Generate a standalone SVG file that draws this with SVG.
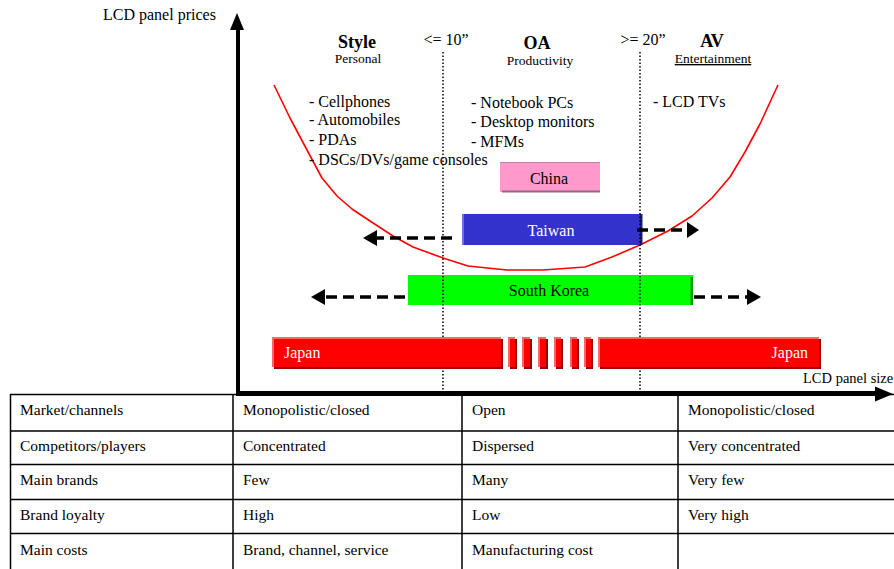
<svg xmlns="http://www.w3.org/2000/svg" width="894" height="569" viewBox="0 0 894 569">
<style>
text{font-family:"Liberation Serif","Times New Roman",serif;fill:#000}
.t{font-size:15.5px}
.l{font-size:16px}
.h{font-size:18px;font-weight:bold}
.s{font-size:13.5px}
.w{fill:#fff}
.grid{stroke:#000;stroke-width:1.5;fill:none}
.dot{stroke:#000;stroke-width:1.5;stroke-dasharray:1.5 2;fill:none}
.dash{stroke:#000;stroke-width:3.5;stroke-dasharray:11 6;fill:none}
.lt{fill:#FF6666}.dk{fill:#990000}.bd{fill:#FF0000}
</style>

<g id="table">
  <line class="grid" x1="10" y1="394.5" x2="894" y2="394.5"/>
  <line class="grid" x1="10" y1="431" x2="894" y2="431"/>
  <line class="grid" x1="10" y1="464.5" x2="894" y2="464.5"/>
  <line class="grid" x1="10" y1="499.5" x2="894" y2="499.5"/>
  <line class="grid" x1="10" y1="533.5" x2="894" y2="533.5"/>
  <line class="grid" x1="10.5" y1="394" x2="10.5" y2="569"/>
  <line class="grid" x1="233" y1="394" x2="233" y2="569"/>
  <line class="grid" x1="462" y1="394" x2="462" y2="569"/>
  <line class="grid" x1="678" y1="394" x2="678" y2="569"/>
  <text class="t" x="20" y="415">Market/channels</text>
  <text class="t" x="243" y="415">Monopolistic/closed</text>
  <text class="t" x="472" y="415">Open</text>
  <text class="t" x="688" y="415">Monopolistic/closed</text>
  <text class="t" x="20" y="451">Competitors/players</text>
  <text class="t" x="243" y="451">Concentrated</text>
  <text class="t" x="472" y="451">Dispersed</text>
  <text class="t" x="688" y="451">Very concentrated</text>
  <text class="t" x="20" y="485">Main brands</text>
  <text class="t" x="243" y="485">Few</text>
  <text class="t" x="472" y="485">Many</text>
  <text class="t" x="688" y="485">Very few</text>
  <text class="t" x="20" y="520">Brand loyalty</text>
  <text class="t" x="243" y="520">High</text>
  <text class="t" x="472" y="520">Low</text>
  <text class="t" x="688" y="520">Very high</text>
  <text class="t" x="20" y="555">Main costs</text>
  <text class="t" x="243" y="555">Brand, channel, service</text>
  <text class="t" x="472" y="555">Manufacturing cost</text>
</g>

<g id="curve">
  <polyline fill="none" stroke="#FF0000" stroke-width="1.6" stroke-linejoin="round" points="274,85 290,118 307,150 322,178 337,196 352,209 370,221 393,236 413,247 443,258 468,266 507,270 543,270 585,267 612,257 640,245 668,231 692,216 712,198 730,177 745,152 760,124 778,85"/>
</g>

<g id="china">
  <rect x="500" y="162" width="100" height="30" fill="#FF99CC"/>
  <rect x="500" y="162" width="100" height="1" fill="#CC7AA3"/>
  <rect x="502" y="190.5" width="98" height="2" fill="#996680"/>
  <text class="l" x="549" y="184" text-anchor="middle">China</text>
</g>

<g id="taiwan">
  <rect x="462" y="214" width="180" height="31" fill="#3333CC"/>
  <rect x="462" y="214" width="2" height="31" fill="#7070E0"/>
  <rect x="640" y="214" width="2.5" height="31" fill="#1A1A80"/>
  <text class="l w" x="551" y="236" text-anchor="middle">Taiwan</text>
</g>

<g id="south-korea">
  <rect x="408" y="275" width="285" height="30" fill="#00FF00"/>
  <rect x="690.5" y="277" width="2.5" height="28" fill="#009900"/>
  <text class="l" x="549" y="296" text-anchor="middle">South Korea</text>
</g>

<g id="guides">
  <line class="dot" x1="443" y1="52" x2="443" y2="391"/>
  <line class="dot" x1="640" y1="52" x2="640" y2="391"/>
</g>

<g id="japan">
  <rect class="lt" x="272" y="337" width="229" height="30"/>
  <rect class="dk" x="274" y="339" width="229" height="30"/>
  <rect class="bd" x="274" y="339" width="227" height="28"/>
  <rect class="lt" x="508" y="337" width="7" height="30"/><rect class="dk" x="510" y="339" width="7" height="30"/><rect class="bd" x="510" y="339" width="5" height="28"/>
  <rect class="lt" x="522" y="337" width="8" height="30"/><rect class="dk" x="524" y="339" width="8" height="30"/><rect class="bd" x="524" y="339" width="6" height="28"/>
  <rect class="lt" x="538" y="337" width="8" height="30"/><rect class="dk" x="540" y="339" width="8" height="30"/><rect class="bd" x="540" y="339" width="6" height="28"/>
  <rect class="lt" x="554" y="337" width="7" height="30"/><rect class="dk" x="556" y="339" width="7" height="30"/><rect class="bd" x="556" y="339" width="5" height="28"/>
  <rect class="lt" x="570" y="337" width="7" height="30"/><rect class="dk" x="572" y="339" width="7" height="30"/><rect class="bd" x="572" y="339" width="5" height="28"/>
  <rect class="lt" x="584" y="337" width="7" height="30"/><rect class="dk" x="586" y="339" width="7" height="30"/><rect class="bd" x="586" y="339" width="5" height="28"/>
  <rect class="lt" x="598" y="337" width="221" height="30"/>
  <rect class="dk" x="600" y="339" width="221" height="30"/>
  <rect class="bd" x="600" y="339" width="219" height="28"/>
  <text class="l w" x="284" y="358">Japan</text>
  <text class="l w" x="808" y="358" text-anchor="end">Japan</text>
</g>

<g id="connectors">
  <line class="dash" x1="452" y1="238" x2="376" y2="238"/>
  <polygon points="363,238 377,230 377,246" fill="#000"/>
  <line class="dash" x1="637" y1="230" x2="688" y2="230"/>
  <polygon points="699,230 687,222 687,238" fill="#000"/>
  <line class="dash" x1="405" y1="297" x2="324" y2="297"/>
  <polygon points="311,297 325,289 325,305" fill="#000"/>
  <line class="dash" x1="694" y1="297" x2="748" y2="297"/>
  <polygon points="761,297 747,289 747,305" fill="#000"/>
</g>

<g id="axes">
  <line x1="238" y1="28" x2="238" y2="396" stroke="#000" stroke-width="4"/>
  <polygon points="237,13 230,30 244,30" fill="#000"/>
  <line x1="236" y1="393.5" x2="877" y2="393.5" stroke="#000" stroke-width="5"/>
  <polygon points="893,394 875,386.5 875,401.5" fill="#000"/>
  <text class="l" x="103" y="20">LCD panel prices</text>
  <text font-size="14.5" x="803" y="383">LCD panel size</text>
</g>

<g id="headers">
  <text class="h" x="357" y="48" text-anchor="middle">Style</text>
  <text class="s" x="358" y="63" text-anchor="middle">Personal</text>
  <text class="l" x="446" y="45" text-anchor="middle">&lt;= 10”</text>
  <text class="h" x="537" y="49" text-anchor="middle">OA</text>
  <text class="s" x="540" y="65" text-anchor="middle">Productivity</text>
  <text class="l" x="643" y="45" text-anchor="middle">&gt;= 20”</text>
  <text class="h" x="712" y="47" text-anchor="middle">AV</text>
  <text class="s" x="713" y="63" text-anchor="middle" text-decoration="underline">Entertainment</text>
</g>

<g id="lists">
  <text class="l" x="309" y="107">- Cellphones</text>
  <text class="l" x="309" y="125">- Automobiles</text>
  <text class="l" x="309" y="145">- PDAs</text>
  <text class="l" x="309" y="165">- DSCs/DVs/game consoles</text>
  <text class="l" x="471" y="108">- Notebook PCs</text>
  <text class="l" x="471" y="127">- Desktop monitors</text>
  <text class="l" x="471" y="147">- MFMs</text>
  <text class="l" x="653" y="107">- LCD TVs</text>
</g>
</svg>
